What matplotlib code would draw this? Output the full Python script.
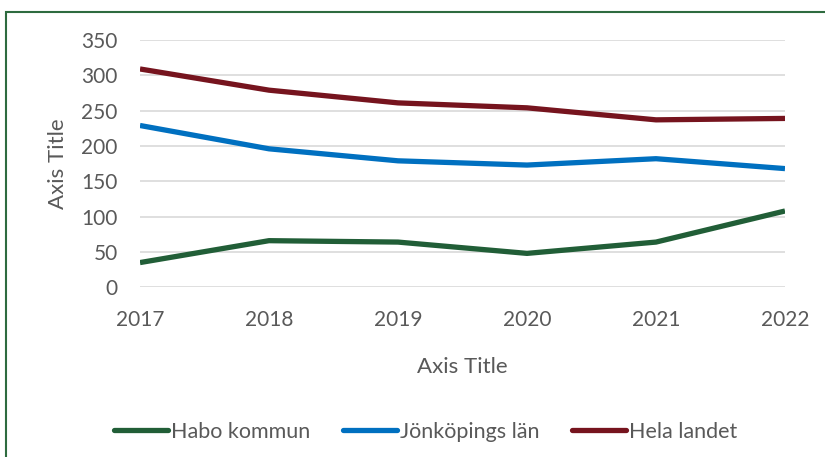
import matplotlib.pyplot as plt
from matplotlib.patches import Rectangle

years = [2017, 2018, 2019, 2020, 2021, 2022]
habo = [35, 66, 64, 48, 64, 108]
jonkoping = [229, 196, 179, 173, 182, 168]
hela_landet = [309, 279, 261, 254, 237, 239]

series_names = ["Habo kommun", "Jönköpings län", "Hela landet"]
series_values = [habo, jonkoping, hela_landet]
colors = ["#215e37", "#0070c0", "#76141e"]

TEXT = "#595959"
plt.rcParams["font.family"] = ["Lato", "DejaVu Sans"]

fig = plt.figure(figsize=(8.25, 4.57), dpi=100)
ax = fig.add_axes([140 / 825, 1 - 287.3 / 457, 645 / 825, 247.3 / 457])

for name, vals, c in zip(series_names, series_values, colors):
    ax.plot(years, vals, color=c, lw=3.8, label=name, solid_capstyle="butt", solid_joinstyle="round")

ax.set_xlim(2017, 2022)
ax.set_ylim(0, 350)
ax.set_yticks(range(0, 351, 50))
ax.set_xticks(years)
ax.yaxis.grid(True, color="#d9d9d9", lw=1.2)
ax.set_axisbelow(True)
for s in ax.spines.values():
    s.set_visible(False)
ax.tick_params(length=0, labelsize=15, labelcolor=TEXT)
ax.tick_params(axis="y", pad=16)
ax.tick_params(axis="x", pad=16)
ax.set_xlabel("Axis Title", fontsize=16, color=TEXT, labelpad=20)
ax.set_ylabel("Axis Title", fontsize=16, color=TEXT, labelpad=10)

leg = fig.legend(loc="center", bbox_to_anchor=(0.516, 1 - 432 / 457), ncol=3, frameon=False,
                 fontsize=15.5, handlelength=2.5, handletextpad=0.15, columnspacing=1.5)
for t in leg.get_texts():
    t.set_color(TEXT)
for h in leg.get_lines():
    h.set_solid_capstyle("round")

fig.patches.append(Rectangle((6 / 825, -0.1), 1.1, 1 - 12 / 457 + 0.1, transform=fig.transFigure,
                             fill=False, edgecolor="#2e6b3f", lw=1.5))

fig.savefig("out.png", dpi=100)
